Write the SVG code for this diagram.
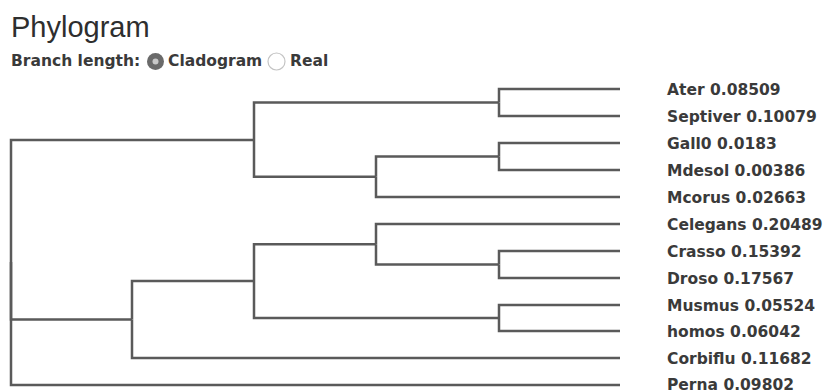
<svg xmlns="http://www.w3.org/2000/svg" width="824" height="392" viewBox="0 0 824 392">
<style>
.title{font-family:"Liberation Sans",Arial,sans-serif;font-size:29px;fill:#2e2e2e}
.ctl{font-family:"DejaVu Sans",Verdana,sans-serif;font-size:15.5px;font-weight:bold;fill:#3a3a3a}
.lbl{font-family:"DejaVu Sans",Verdana,sans-serif;font-size:15.5px;font-weight:bold;fill:#3a3a3a}
.link{fill:none;stroke:#5a5a5a;stroke-width:2.5}
</style>
<rect width="824" height="392" fill="#fff"/>
<text class="title" x="11" y="37">Phylogram</text>
<g id="controls">
<text class="ctl" x="11" y="66">Branch length:</text>
<circle cx="155.5" cy="61.5" r="8.5" fill="#6a6a6a"/>
<circle cx="155.5" cy="61.5" r="3" fill="#c8c8c8"/>
<text class="ctl" x="168" y="66">Cladogram</text>
<circle cx="276.5" cy="61.5" r="8.5" fill="#fff" stroke="#c4c4c4" stroke-width="1.2"/>
<text class="ctl" x="290" y="66">Real</text>
</g>
<g id="connectors">
<path class="link" d="M11,262 V140 H254"/>
<path class="link" d="M11,262 V319.5 H132"/>
<path class="link" d="M11,262 V385 H620"/>
<path class="link" d="M254,140 V102.5 H499"/>
<path class="link" d="M254,140 V176.75 H376"/>
<path class="link" d="M499,102.5 V89 H620"/>
<path class="link" d="M499,102.5 V116 H620"/>
<path class="link" d="M376,176.75 V156.5 H499"/>
<path class="link" d="M376,176.75 V197 H620"/>
<path class="link" d="M499,156.5 V143 H620"/>
<path class="link" d="M499,156.5 V170 H620"/>
<path class="link" d="M132,319.5 V281 H254"/>
<path class="link" d="M132,319.5 V358 H620"/>
<path class="link" d="M254,281 V244.25 H376"/>
<path class="link" d="M254,281 V318 H499"/>
<path class="link" d="M376,244.25 V224 H620"/>
<path class="link" d="M376,244.25 V264.5 H499"/>
<path class="link" d="M499,264.5 V251 H620"/>
<path class="link" d="M499,264.5 V278 H620"/>
<path class="link" d="M499,318 V305 H620"/>
<path class="link" d="M499,318 V331 H620"/>
</g>
<g id="leaf-ater"><text class="lbl" x="667" y="95">Ater 0.08509</text></g>
<g id="leaf-septiver"><text class="lbl" x="667" y="122">Septiver 0.10079</text></g>
<g id="leaf-gall0"><text class="lbl" x="667" y="149">Gall0 0.0183</text></g>
<g id="leaf-mdesol"><text class="lbl" x="667" y="176">Mdesol 0.00386</text></g>
<g id="leaf-mcorus"><text class="lbl" x="667" y="203">Mcorus 0.02663</text></g>
<g id="leaf-celegans"><text class="lbl" x="667" y="230">Celegans 0.20489</text></g>
<g id="leaf-crasso"><text class="lbl" x="667" y="257">Crasso 0.15392</text></g>
<g id="leaf-droso"><text class="lbl" x="667" y="284">Droso 0.17567</text></g>
<g id="leaf-musmus"><text class="lbl" x="667" y="311">Musmus 0.05524</text></g>
<g id="leaf-homos"><text class="lbl" x="667" y="337">homos 0.06042</text></g>
<g id="leaf-corbiflu"><text class="lbl" x="667" y="364">Corbiflu 0.11682</text></g>
<g id="leaf-perna"><text class="lbl" x="667" y="389.5">Perna 0.09802</text></g>
</svg>
